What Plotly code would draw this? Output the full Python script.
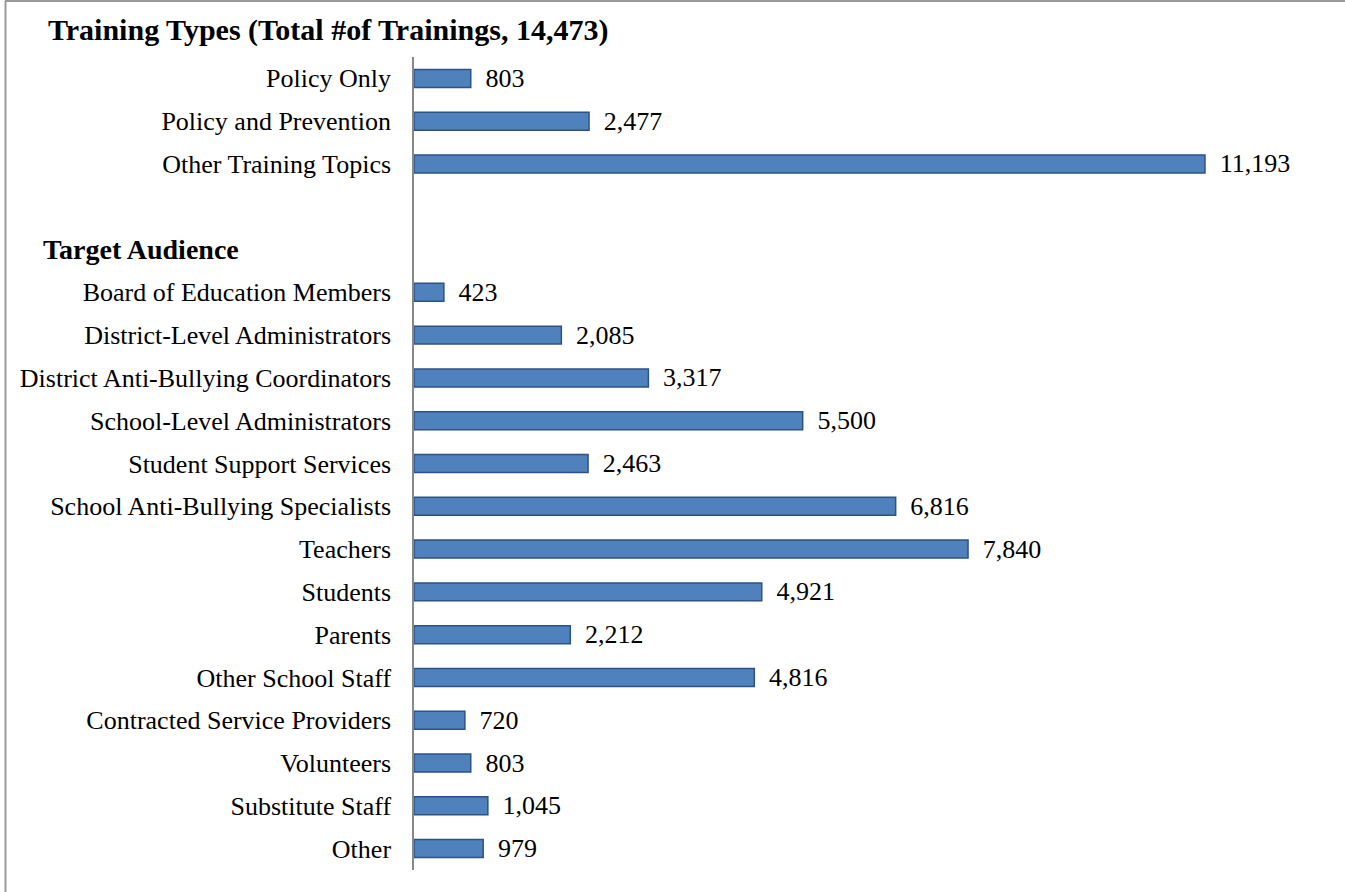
import plotly.graph_objects as go

# rows top to bottom; blank row and heading row carry no bar
categories = [
    "Policy Only", "Policy and Prevention", "Other Training Topics",
    " ", "Target Audience",
    "Board of Education Members", "District-Level Administrators",
    "District Anti-Bullying Coordinators", "School-Level Administrators",
    "Student Support Services", "School Anti-Bullying Specialists",
    "Teachers", "Students", "Parents", "Other School Staff",
    "Contracted Service Providers", "Volunteers", "Substitute Staff", "Other",
]
values = [803, 2477, 11193, None, None,
          423, 2085, 3317, 5500, 2463, 6816, 7840, 4921, 2212, 4816,
          720, 803, 1045, 979]
tick_labels = [c if c not in (" ", "Target Audience") else "" for c in categories]

W, H = 1345, 892
ml, mr, mt, mb = 414, 83, 57, 22
pw, ph = W - ml - mr, H - mt - mb

def px_x(p):
    return (p - ml) / pw

def px_y(p):
    return (H - mb - p) / ph

font = "Liberation Serif, Times New Roman, serif"

fig = go.Figure(go.Bar(
    x=values, y=categories, orientation="h",
    width=0.42,
    marker=dict(color="#4F81BD", line=dict(color="#2C5286", width=1.5)),
    text=[f" \u2009{v:,}" if v is not None else "" for v in values],
    textposition="outside", cliponaxis=False, constraintext="none",
    textfont=dict(family=font, size=26, color="black"),
    hoverinfo="skip",
))

fig.update_layout(
    width=W, height=H,
    margin=dict(l=ml, r=mr, t=mt, b=mb),
    plot_bgcolor="white", paper_bgcolor="white",
    showlegend=False,
    font=dict(family=font, size=26, color="black"),
    annotations=[
        dict(text="<b>Training Types (Total #of Trainings, 14,473)</b>",
             xref="paper", yref="paper", x=px_x(46), y=px_y(30),
             xanchor="left", yanchor="middle", showarrow=False,
             font=dict(family=font, size=30, color="black")),
        dict(text="<b>Target Audience</b>",
             xref="paper", yref="paper", x=px_x(41), y=px_y(249),
             xanchor="left", yanchor="middle", showarrow=False,
             font=dict(family=font, size=28, color="black")),
    ],
    shapes=[
        dict(type="line", xref="paper", yref="paper",
             x0=px_x(5.5), x1=px_x(5.5), y0=px_y(1), y1=px_y(H + 2),
             line=dict(color="#999999", width=2)),
        dict(type="line", xref="paper", yref="paper",
             x0=px_x(5), x1=px_x(W + 2), y0=px_y(1), y1=px_y(1),
             line=dict(color="#999999", width=2)),
    ],
)

fig.update_xaxes(range=[0, 12000], visible=False)
fig.update_yaxes(
    categoryorder="array", categoryarray=categories[::-1],
    tickvals=categories, ticktext=tick_labels,
    autorange=False, range=[-0.5, len(categories) - 0.5],
    showline=True, linecolor="#888888", linewidth=1.5,
    showgrid=False, ticks="", ticklabelstandoff=16,
    tickfont=dict(family=font, size=26, color="black"),
)

fig.write_html("out.html", config={"displayModeBar": False},
               post_script="document.body.style.margin='0';")
